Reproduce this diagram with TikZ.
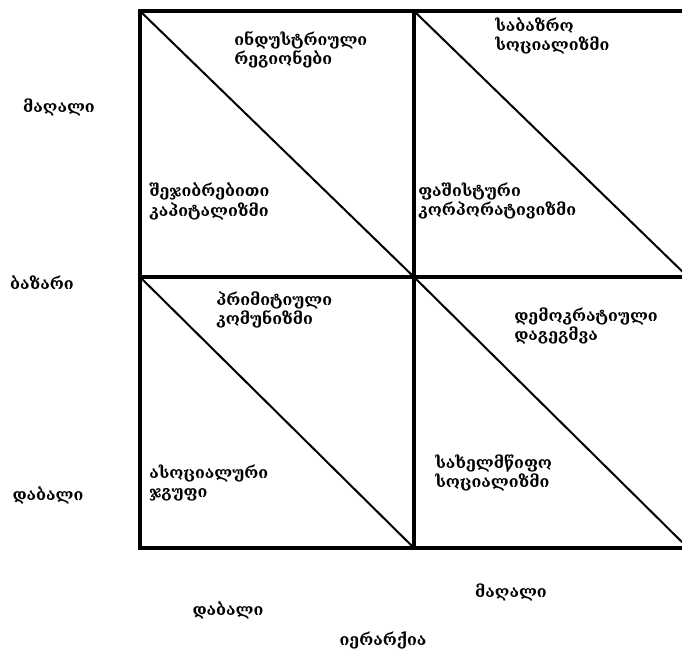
\documentclass[tikz,border=0pt]{standalone}
\usepackage{fontspec}
\setmainfont{DejaVu Serif}
\begin{document}
\begin{tikzpicture}[x=0.75pt, y=-0.75pt, font=\bfseries\fontsize{12}{14.5}\selectfont]
    \def\colL{140}
    \def\colM{414}
    \def\colR{688}
    \def\rowT{11}
    \def\rowM{277}
    \def\rowB{548}

    \tikzset{
        frame/.style={line width=3pt, line cap=rect},
        diag/.style={line width=1.5pt},
        celltext/.style={anchor=west, align=left, inner sep=0pt},
        axistext/.style={inner sep=0pt}
    }

    \useasboundingbox (0,0) rectangle (682,662);
    \clip (0,0) rectangle (682,662);

    % Corner points of the grid
    \coordinate (A) at (\colL,\rowT);
    \coordinate (B) at (\colM,\rowT);
    \coordinate (C) at (\colR,\rowT);
    \coordinate (D) at (\colL,\rowM);
    \coordinate (E) at (\colM,\rowM);
    \coordinate (F) at (\colR,\rowM);
    \coordinate (G) at (\colL,\rowB);
    \coordinate (H) at (\colM,\rowB);
    \coordinate (I) at (\colR,\rowB);

    % Draw grid
    \draw[frame] (A) rectangle (I);
    \draw[frame] (B) -- (H);
    \draw[frame] (D) -- (F);

    % Draw diagonals
    \draw[diag] (A) -- (E);
    \draw[diag] (B) -- (F);
    \draw[diag] (D) -- (H);
    \draw[diag] (E) -- (I);

    % Cell labels
    \node[celltext] (industry) at (234,49.5) {ინდუსტრიული\\რეგიონები};
    \node[celltext] (marketsoc) at (495,36) {საბაზრო\\სოციალიზმი};
    \node[celltext] (compcap) at (149,201.5) {შეჯიბრებითი\\კაპიტალიზმი};
    \node[celltext] (fascist) at (418,201) {ფაშისტური\\კორპორატივიზმი};
    \node[celltext] (primcom) at (216,310) {პრიმიტიული\\კომუნიზმი};
    \node[celltext] (demplan) at (514,326) {დემოკრატიული\\დაგეგმვა};
    \node[celltext] (asocial) at (149,483) {ასოციალური\\ჯგუფი};
    \node[celltext] (statesoc) at (435,473) {სახელმწიფო\\სოციალიზმი};

    % Label axes
    \node[axistext] (yhigh) at (59,107) {მაღალი};
    \node[axistext] (ymarket) at (42,283) {ბაზარი};
    \node[axistext] (ylow) at (48,495) {დაბალი};
    \node[axistext] (xlow) at (228,610) {დაბალი};
    \node[axistext] (xhigh) at (511,592) {მაღალი};
    \node[axistext] (xhier) at (383,640) {იერარქია};

\end{tikzpicture}
\end{document}
